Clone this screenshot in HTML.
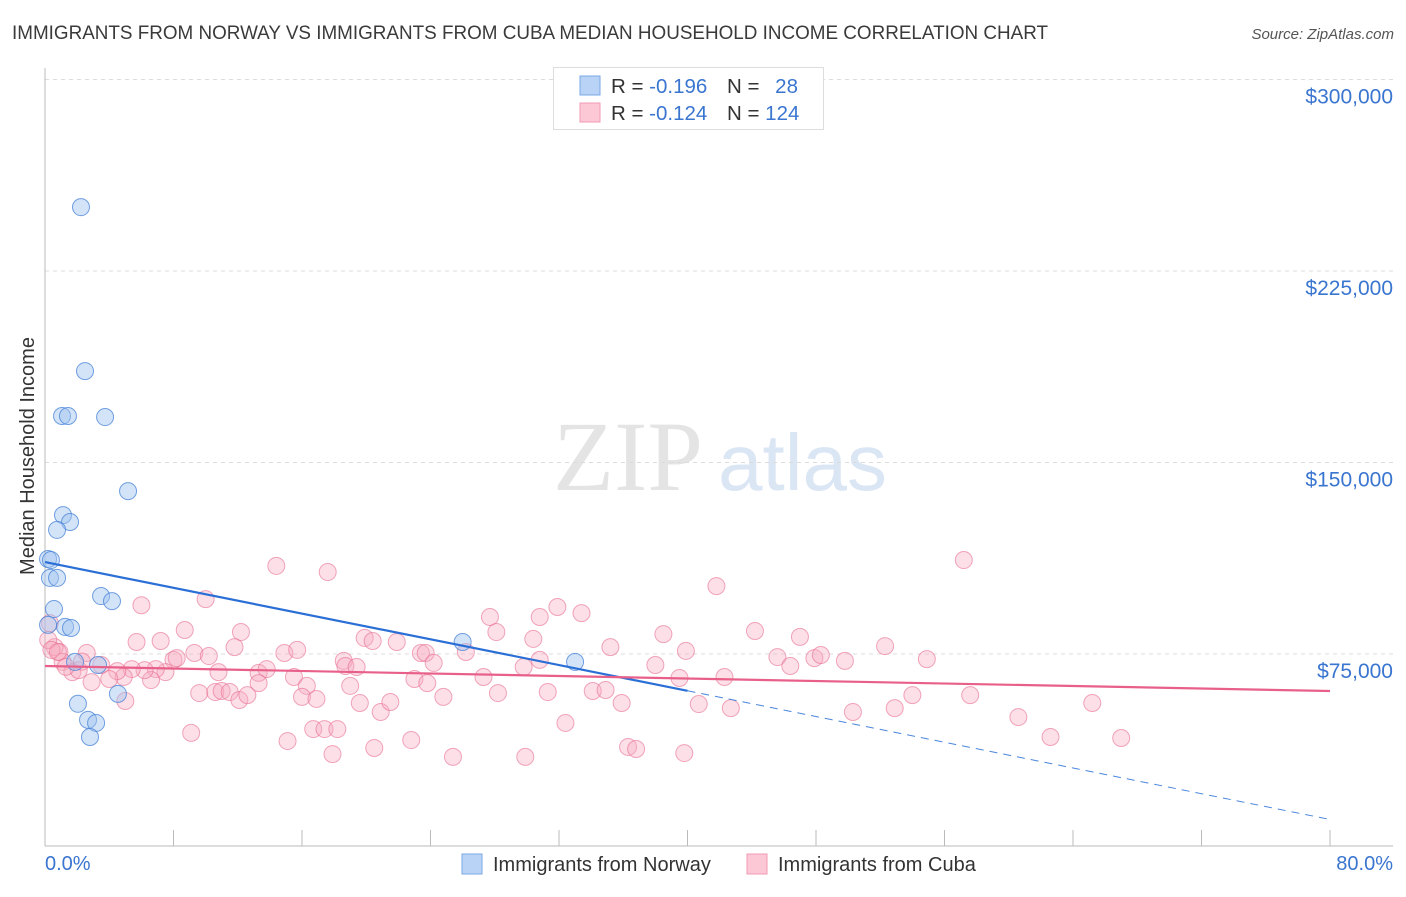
<!DOCTYPE html>
<html><head><meta charset="utf-8">
<style>
body{margin:0;background:#fff;font-family:"Liberation Sans",sans-serif;}
svg text{font-family:"Liberation Sans",sans-serif;}
</style></head>
<body>
<svg id="chart" width="1406" height="892" xmlns="http://www.w3.org/2000/svg">
<text x="12" y="39" font-size="19" fill="#3a3a3a" textLength="1036" lengthAdjust="spacingAndGlyphs">IMMIGRANTS FROM NORWAY VS IMMIGRANTS FROM CUBA MEDIAN HOUSEHOLD INCOME CORRELATION CHART</text>
<text x="1394" y="39" font-size="15" fill="#555" font-style="italic" text-anchor="end">Source: ZipAtlas.com</text>
<g>
<text x="553" y="490" font-size="100" fill="#e4e4e4" style="font-family:'Liberation Serif',serif">ZIP</text>
<text x="718" y="490" font-size="80" fill="#dbe6f5">atlas</text>
</g>
<g id="grid"></g>
<g id="axes"></g>
<g id="cuba"></g>
<g id="norway"></g>
<g id="trends"></g>
<text transform="translate(34,456) rotate(-90)" font-size="20" fill="#333" text-anchor="middle">Median Household Income</text>
<g>
<rect x="553.5" y="67.5" width="270" height="62" fill="#fff" stroke="#ddd"/>
<rect x="580" y="76" width="20" height="19" fill="#b8d3f5" stroke="#7aa8e6"/>
<rect x="580" y="103" width="20" height="19" fill="#fcc8d6" stroke="#f09ab2"/>
<text x="611" y="93" font-size="20.5" fill="#333">R = <tspan fill="#3a75d0">-0.196</tspan></text>
<text x="727" y="93" font-size="20.5" fill="#333">N = <tspan fill="#3a75d0" dx="10">28</tspan></text>
<text x="611" y="120" font-size="20.5" fill="#333">R = <tspan fill="#3a75d0">-0.124</tspan></text>
<text x="727" y="120" font-size="20.5" fill="#333">N = <tspan fill="#3a75d0">124</tspan></text>
</g>
<g>
<rect x="462" y="854" width="20" height="20" fill="#b8d3f5" stroke="#7aa8e6"/>
<text x="493" y="871" font-size="20" fill="#333">Immigrants from Norway</text>
<rect x="747" y="854" width="20" height="20" fill="#fcc8d6" stroke="#f09ab2"/>
<text x="778" y="871" font-size="20" fill="#333">Immigrants from Cuba</text>
</g>
</svg>
<script>
const yTicks=[75000,150000,225000,300000];
const yTickLabels=["$75,000","$150,000","$225,000","$300,000"];
const xTickLabels=["0.0%","80.0%"];
const norwayX=[2.24,2.49,1.06,1.43,3.74,5.17,1.12,1.56,0.75,0.19,0.37,0.31,0.75,3.49,4.17,0.56,0.19,1.25,1.62,26.0,33.0,1.87,3.30,4.54,2.05,2.68,3.18,2.80];
const norwayY=[250.0,185.8,168.2,168.2,167.8,138.8,129.4,126.7,123.6,112.2,111.8,104.8,104.8,97.7,95.7,92.6,86.4,85.6,85.2,79.7,71.9,71.9,70.7,59.4,55.5,49.2,48.0,42.5];
const cubaX=[14.4,17.6,10.0,6.0,27.7,28.1,8.7,5.7,7.2,12.2,11.8,19.9,20.4,21.9,23.4,23.7,24.2,26.2,27.3,28.2,14.9,15.7,18.6,18.7,19.4,19.0,19.6,20.9,21.5,23.0,23.8,24.8,15.5,16.3,16.0,16.9,10.8,9.6,10.6,11.0,11.5,12.1,12.6,13.3,13.8,13.3,9.3,10.2,8.0,8.2,7.5,6.9,6.6,6.2,5.4,4.9,4.5,4.0,2.9,2.6,0.9,0.6,0.3,1.1,1.7,2.1,3.5,5.0,9.1,15.1,16.7,17.4,18.2,17.9,20.5,22.8,25.4,30.8,31.9,33.4,30.4,30.8,29.8,31.3,35.2,34.1,34.9,35.9,32.4,29.9,36.3,36.8,39.8,38.5,39.9,38.0,39.5,41.8,42.3,40.7,42.7,44.2,45.6,46.4,47.0,47.9,48.3,49.8,52.3,54.9,54.0,52.9,50.3,57.2,57.6,60.6,62.6,65.2,67.0,0.2,0.4,0.8,1.3,2.3];
const cubaY=[109.5,107.1,96.5,94.1,89.5,83.6,84.4,79.7,80.1,83.6,77.7,81.3,80.1,79.7,75.4,75.4,71.5,75.8,66.0,59.7,75.4,76.6,72.3,70.3,69.9,62.5,55.8,52.3,56.2,65.2,63.6,58.2,66.0,62.5,58.2,57.4,67.9,59.7,60.1,60.5,60.1,57.0,58.9,67.6,69.1,63.6,75.4,74.2,72.7,73.4,67.9,69.1,64.8,68.7,69.1,66.0,68.3,65.2,64.0,75.4,75.8,77.7,87.1,71.9,67.9,68.7,70.7,56.6,44.1,40.9,45.6,45.6,45.6,35.8,38.2,41.3,34.7,89.5,93.4,91.0,80.9,72.7,69.9,60.1,77.7,60.5,60.9,55.8,48.0,34.7,38.6,37.8,36.2,82.8,76.2,70.7,65.6,101.6,66.0,55.4,53.8,84.0,73.8,70.3,81.7,73.4,74.6,72.3,78.1,73.0,58.9,53.8,52.3,111.8,58.9,50.3,42.5,55.8,42.1,80.5,76.6,75.8,70.0,72.0];
const norwayTrend=[111.0,10.2];
const cubaTrend=[70.3,60.5];
const norwaySolidEnd=40;
const NS="http://www.w3.org/2000/svg";
const X0=45,X1=1330,Y0=845.5,PXK=191.5/75;
function xs(v){return X0+(v/80)*(X1-X0);}
function ys(k){return Y0-k*PXK;}
function mk(tag,attrs,parent){const e=document.createElementNS(NS,tag);for(const k in attrs)e.setAttribute(k,attrs[k]);parent.appendChild(e);return e;}
const grid=document.getElementById('grid'),axes=document.getElementById('axes');
yTicks.forEach((t,i)=>{
  const y=ys(t/1000);
  const l=mk('line',{x1:45,x2:1393,y1:y,y2:y,stroke:'#dcdcdc','stroke-dasharray':'4,4'},grid);
  
  
  const tx=mk('text',{x:1393,y:y+24,'font-size':21,fill:'#3a75d0','text-anchor':'end'},axes);
  tx.textContent=yTickLabels[i];
  
  
});
const ya=mk('line',{x1:45,x2:45,y1:68,y2:846,stroke:'#bbb'},axes);


const xa=mk('line',{x1:45,x2:1393,y1:846,y2:846,stroke:'#bbb'},axes);


for(let i=0;i<=10;i++){
  const x=xs(i*8);
  const t=mk('line',{x1:x,x2:x,y1:830,y2:846,stroke:'#bbb'},axes);
  
  
}
[[0,'start'],[80,'end']].forEach((p,i)=>{
  const t=mk('text',{x:i?1393:45,y:870,'font-size':20,fill:'#3a75d0','text-anchor':p[1]},axes);
  t.textContent=xTickLabels[i];
  
  
});
const cg=document.getElementById('cuba');
cubaX.forEach((v,i)=>{
  const c=mk('circle',{cx:xs(v),cy:ys(cubaY[i]),r:8.5,fill:'rgba(248,170,192,0.38)',stroke:'rgba(232,110,145,0.6)','stroke-width':1},cg);
  
  
});
const ng=document.getElementById('norway');
norwayX.forEach((v,i)=>{
  const c=mk('circle',{cx:xs(v),cy:ys(norwayY[i]),r:8.5,fill:'rgba(160,196,240,0.45)',stroke:'rgba(70,130,215,0.75)','stroke-width':1},ng);
  
  
});
const tg=document.getElementById('trends');
const nAt=x=>norwayTrend[0]+(norwayTrend[1]-norwayTrend[0])*x/80;
const l1=mk('line',{x1:xs(0),y1:ys(nAt(0)),x2:xs(norwaySolidEnd),y2:ys(nAt(norwaySolidEnd)),stroke:'#2a6fd6','stroke-width':2.2},tg);


const l2=mk('line',{x1:xs(norwaySolidEnd),y1:ys(nAt(norwaySolidEnd)),x2:xs(80),y2:ys(nAt(80)),stroke:'#4a86dc','stroke-width':1,'stroke-dasharray':'8,6'},tg);


const l3=mk('line',{x1:xs(0),y1:ys(cubaTrend[0]),x2:xs(80),y2:ys(cubaTrend[1]),stroke:'#e8608a','stroke-width':2.2},tg);


</script>
</body></html>
